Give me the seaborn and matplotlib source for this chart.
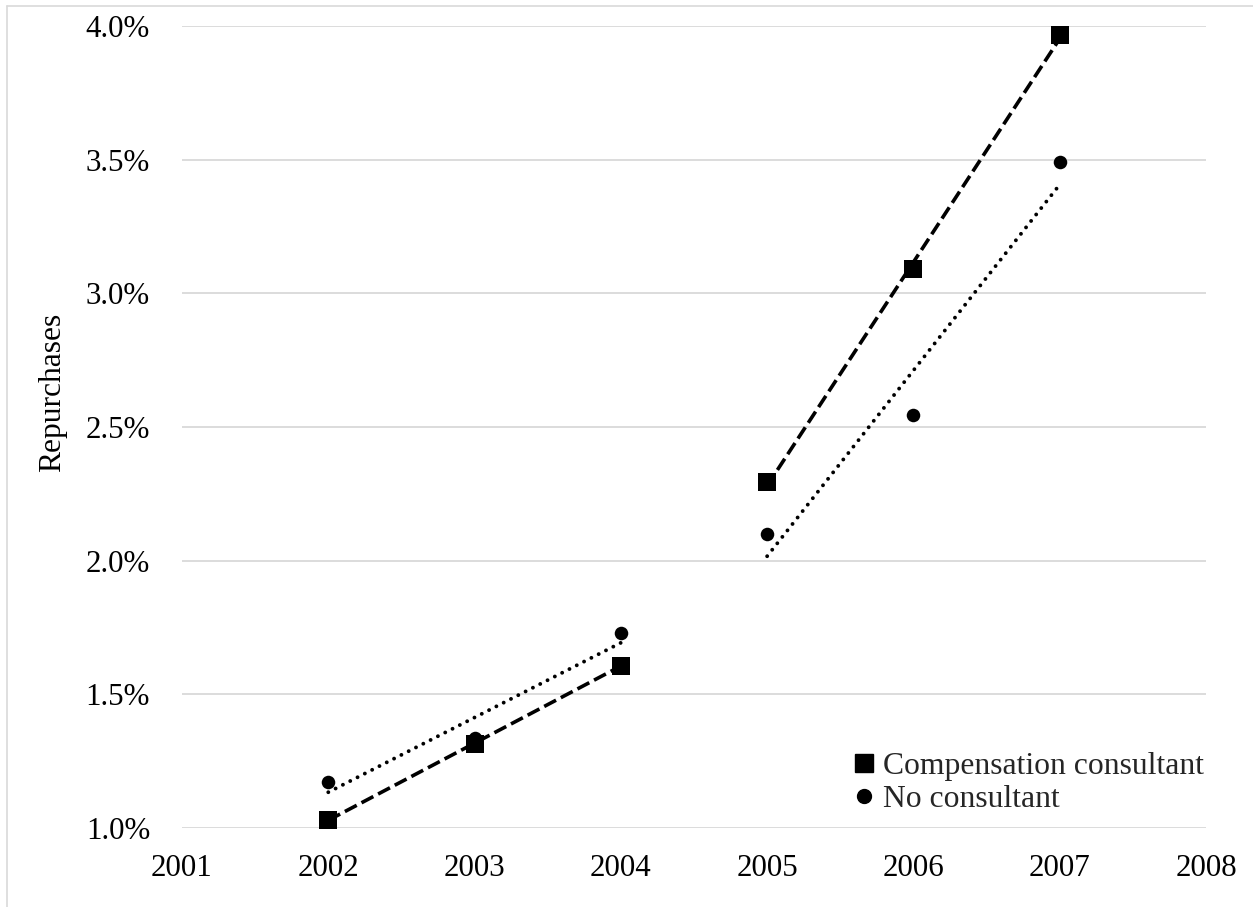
import numpy as np
import pandas as pd
import matplotlib
matplotlib.use("Agg")
import matplotlib.pyplot as plt
from matplotlib.lines import Line2D
import seaborn as sns

# ---- data (percent) ----
years = [2002, 2003, 2004, 2005, 2006, 2007]
consultant = [1.03, 1.315, 1.607, 2.294, 3.09, 3.966]
no_consultant = [1.172, 1.337, 1.731, 2.10, 2.545, 3.49]
series_names = ["Compensation consultant", "No consultant"]
periods = [[2002, 2003, 2004], [2005, 2006, 2007]]
y_ticks = [1.0, 1.5, 2.0, 2.5, 3.0, 3.5, 4.0]
x_ticks = [2001, 2002, 2003, 2004, 2005, 2006, 2007, 2008]
y_label = "Repurchases"

df = pd.DataFrame({
    "year": years * 2,
    "value": consultant + no_consultant,
    "group": [series_names[0]] * len(years) + [series_names[1]] * len(years),
})

sns.set_theme(style="white")
plt.rcParams["font.family"] = ["Liberation Serif", "DejaVu Serif"]

W, H = 1253, 907
fig = plt.figure(figsize=(W / 100, H / 100), dpi=100)
ax = fig.add_axes([182 / W, 1 - 828 / H, (1206 - 182) / W, (828 - 26) / H])

styles = {
    series_names[0]: dict(marker="s", s=175, ls=(0, (3.7, 1.5)), lw=2.6, cap="butt"),
    series_names[1]: dict(marker="o", s=95, ls=(0, (0.01, 2.1)), lw=2.8, cap="round"),
}

# trend lines per period
for name in series_names:
    st = styles[name]
    sub = df[df["group"] == name]
    for per in periods:
        seg = sub[sub["year"].isin(per)]
        sns.regplot(data=seg, x="year", y="value", ax=ax, scatter=False, ci=None,
                    truncate=True, color="black",
                    line_kws=dict(linestyle=st["ls"], linewidth=st["lw"],
                                  dash_capstyle=st["cap"]))

# markers
for name in series_names:
    st = styles[name]
    sub = df[df["group"] == name]
    sns.scatterplot(data=sub, x="year", y="value", ax=ax, marker=st["marker"],
                    s=st["s"], color="black", edgecolor="black", linewidth=0,
                    clip_on=False, zorder=5, legend=False)

ax.set_xlim(2001, 2008)
ax.set_ylim(1.0, 4.0)
ax.set_xticks(x_ticks)
ax.set_xticklabels([str(x) for x in x_ticks])
ax.set_yticks(y_ticks)
ax.set_yticklabels([f"{v:.1f}%" for v in y_ticks])
ax.tick_params(axis="both", length=0, labelsize=22.3, colors="black")
ax.tick_params(axis="y", pad=23)
ax.tick_params(axis="x", pad=19)
ax.grid(axis="y", color="#d9d9d9", linewidth=1.3)
ax.grid(axis="x", visible=False)
for sp in ax.spines.values():
    sp.set_visible(False)
ax.set_xlabel("")
ax.set_ylabel("")

fig.text(53 / W, 1 - 392 / H, y_label, rotation=90, ha="center", va="center",
         fontsize=22.7, color="black")

handles = [
    Line2D([], [], marker="s", color="black", linestyle="none", markersize=13),
    Line2D([], [], marker="o", color="black", linestyle="none", markersize=10),
]
ax.legend(handles, series_names, loc="upper left",
          bbox_to_anchor=((853 - 182) / 1024, (828 - 752) / 802),
          frameon=False, fontsize=22.8, handlelength=0.7, handletextpad=0.25,
          labelspacing=0.12, borderpad=0, borderaxespad=0)

# chart-area border (left and top visible)
fig.add_artist(Line2D([6.5 / W, 6.5 / W], [0, 1 - 5.5 / H], transform=fig.transFigure,
                      color="#d9d9d9", linewidth=1.2))
fig.add_artist(Line2D([6.5 / W, 1], [1 - 5.5 / H, 1 - 5.5 / H], transform=fig.transFigure,
                      color="#d9d9d9", linewidth=1.2))

fig.savefig("out.png", dpi=100)
